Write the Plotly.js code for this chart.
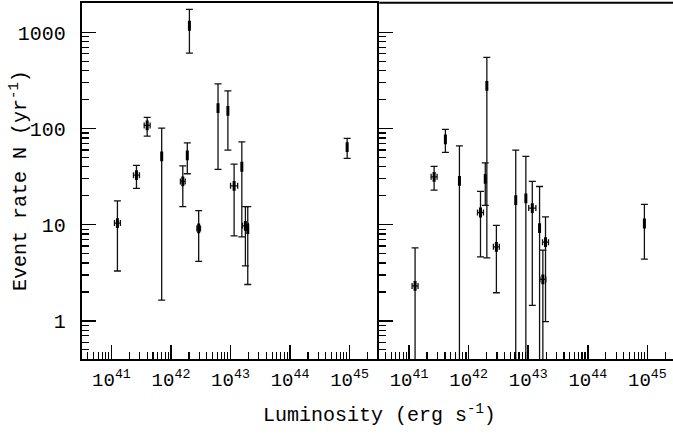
<!DOCTYPE html>
<html>
<head>
<meta charset="utf-8">
<script src="https://cdn.plot.ly/plotly-3.0.1.min.js"></script>
<style>html,body{margin:0;padding:0;background:#fff;}#chart{width:673px;height:434px;}</style>
</head>
<body>
<div id="chart"></div>
<script>
// ---- Left panel data ----
const lumLeft   = [1.26e41, 2.63e41, 3.98e41, 6.98e41, 1.58e42, 1.88e42, 2.04e42, 2.92e42, 6.17e42, 9.04e42, 1.15e43, 1.55e43, 1.78e43, 1.95e43, 9.12e44];
const rateLeft  = [10.4, 32.8, 108, 51.4, 28.2, 52.6, 1175, 9.15, 163, 153, 25.4, 40.1, 9.74, 9.0, 64.2];
const hiLeft    = [17.7, 41.4, 131, 101, 41, 71.2, 1740, 14, 292, 247, 42.7, 72.9, 15.4, 15.4, 79];
const loLeft    = [3.3, 23.9, 83.5, 1.64, 15.4, 33.9, 611, 4.15, 37.6, 59.7, 7.67, 7.48, 3.73, 2.39, 49];
const lumErrLeft = [0.05, 0.05, 0.05, 0, 0.04, 0, 0, 0.03, 0, 0, 0.06, 0, 0.05, 0, 0];

// ---- Right panel data ----
const lumRight   = [1.26e41, 2.63e41, 4.07e41, 7.0e41, 1.58e42, 1.9e42, 2.02e42, 2.92e42, 6.17e42, 9.12e42, 1.17e43, 1.55e43, 1.76e43, 1.95e43, 8.91e44];
const rateRight  = [2.31, 31.5, 77.2, 28.6, 13.4, 30.0, 279, 5.89, 18.0, 18.8, 14.9, 9.22, 2.70, 6.59, 10.3];
const hiRight    = [5.75, 40.4, 98, 66.2, 22.2, 44.1, 551, 9.84, 59.7, 51.4, 28.2, 25.0, 5.44, 12.1, 16.3];
const loRight    = [0, 22.9, 56.5, 0, 4.63, 15.9, 4.52, 1.96, 0, 0, 1.45, 0, 0, 0.98, 4.39];
const lumErrRight = [0.05, 0.05, 0, 0, 0.05, 0, 0, 0.05, 0, 0, 0.06, 0, 0.05, 0.05, 0];

// ---- Axis labels ----
const xMajor = [1e41, 1e42, 1e43, 1e44, 1e45];
const xMajorText = ['10<sup>41</sup>', '10<sup>42</sup>', '10<sup>43</sup>', '10<sup>44</sup>', '10<sup>45</sup>'];
const yMajor = [1, 10, 100, 1000];
const yMajorText = ['1', '10', '100', '1000'];
const xTitle = 'Luminosity (erg s<sup>-1</sup>)';
const yTitle = 'Event rate N (yr<sup>-1</sup>)';

function minorTicks(fromExp, toExp) {
  const out = [];
  for (let e = fromExp; e <= toExp; e++) {
    for (let m = 2; m <= 9; m++) out.push(m * Math.pow(10, e));
  }
  return out;
}

function makeTrace(lum, rate, hi, lo, lerr, xa, ya) {
  return {
    type: 'scatter', mode: 'markers',
    x: lum, y: rate, xaxis: xa, yaxis: ya,
    marker: {symbol: 'line-ns', size: 7, color: '#000', line: {color: '#000', width: 3}},
    error_y: {type: 'data', symmetric: false,
      array: rate.map((v, i) => hi[i] - v),
      arrayminus: rate.map((v, i) => v - lo[i]),
      color: '#111', thickness: 1.3, width: 3.5},
    error_x: {type: 'data', symmetric: false,
      array: lum.map((v, i) => v * (Math.pow(10, lerr[i]) - 1)),
      arrayminus: lum.map((v, i) => v * (1 - Math.pow(10, -lerr[i]))),
      color: '#111', thickness: 1.3, width: 3},
    hoverinfo: 'x+y', showlegend: false
  };
}

const fam = 'Liberation Mono, Courier New, monospace';
const titleFont = {family: fam, size: 20, color: '#000'};
const xTickFont = {family: fam, size: 19, color: '#000'};
const yTickFont = {family: fam, size: 20, color: '#000'};
const W = 673, H = 434;
const xL0 = 81.7, xMid = 379.3, yTop = 2.7, yBot = 359.3;

const xBase = {
  type: 'log', showgrid: false, zeroline: false,
  showline: true, linecolor: '#000', linewidth: 2, mirror: true,
  ticks: 'inside', ticklen: 14, tickwidth: 1.5, tickcolor: '#000',
  tickmode: 'array', tickvals: xMajor, ticktext: xMajorText,
  tickfont: xTickFont, ticklabelstandoff: 2,
  minor: {tickmode: 'array', tickvals: minorTicks(40, 45), ticks: 'inside', ticklen: 7, tickwidth: 1.2, tickcolor: '#000', showgrid: false}
};
const yBase = {
  type: 'log', showgrid: false, zeroline: false,
  range: [-0.4, 3.31],
  domain: [(H - yBot) / H, (H - yTop) / H],
  showline: true, linecolor: '#000', linewidth: 2,
  ticks: 'inside', ticklen: 14, tickwidth: 1.5, tickcolor: '#000',
  tickmode: 'array', tickvals: yMajor, ticktext: yMajorText,
  tickfont: yTickFont, ticklabelstandoff: 10,
  minor: {tickmode: 'array', tickvals: minorTicks(-1, 3), ticks: 'inside', ticklen: 7, tickwidth: 1.2, tickcolor: '#000', showgrid: false}
};

const layout = {
  width: W, height: H,
  margin: {l: 0, r: 0, t: 0, b: 0},
  paper_bgcolor: '#fff', plot_bgcolor: '#fff',
  font: titleFont,
  xaxis: Object.assign({}, xBase, {domain: [xL0 / W, xMid / W], range: [40.5, 45.5], anchor: 'y'}),
  yaxis: Object.assign({}, yBase, {anchor: 'x', mirror: false}),
  xaxis2: Object.assign({}, xBase, {domain: [xMid / W, 1], range: [40.5, 45.43], anchor: 'y2', mirror: false}),
  yaxis2: Object.assign({}, yBase, {anchor: 'x2', showticklabels: false, mirror: false}),
  shapes: [
    {type: 'line', xref: 'paper', yref: 'paper', x0: xMid / W, x1: 1, y0: (H - yTop) / H, y1: (H - yTop) / H, line: {color: '#000', width: 2}}
  ],
  annotations: [
    {text: xTitle, xref: 'paper', yref: 'paper', x: xMid / W, y: (H - 414) / H, xanchor: 'center', yanchor: 'middle', showarrow: false, font: titleFont},
    {text: yTitle, xref: 'paper', yref: 'paper', x: 19.5 / W, y: (H - 180.5) / H, xanchor: 'center', yanchor: 'middle', textangle: -90, showarrow: false, font: titleFont}
  ]
};

Plotly.newPlot('chart', [
  makeTrace(lumLeft, rateLeft, hiLeft, loLeft, lumErrLeft, 'x', 'y'),
  makeTrace(lumRight, rateRight, hiRight, loRight, lumErrRight, 'x2', 'y2')
], layout, {displayModeBar: false, staticPlot: true});
</script>
</body>
</html>
